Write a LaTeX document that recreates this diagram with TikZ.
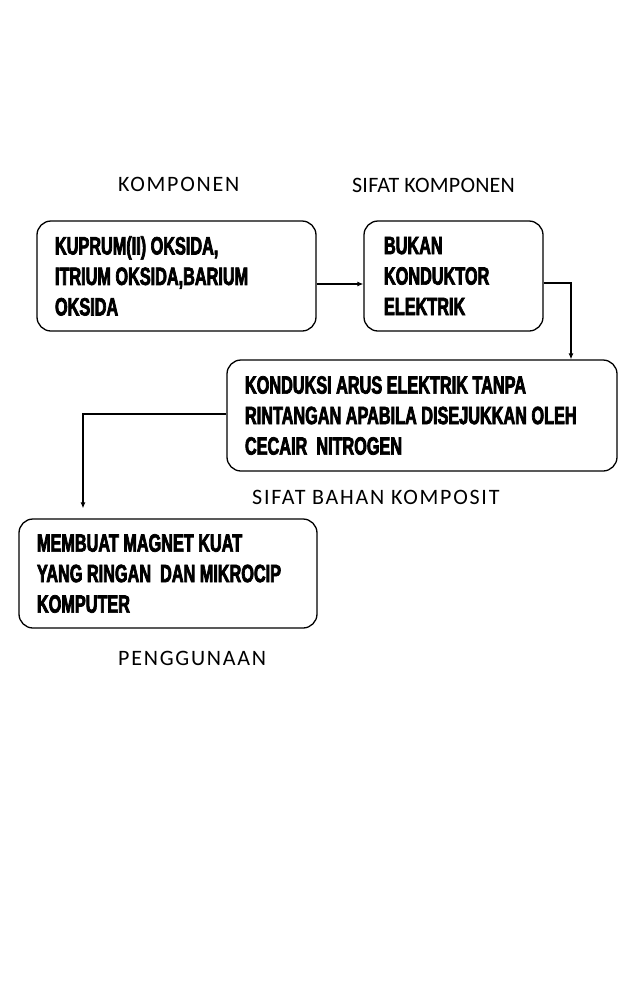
\documentclass[tikz,border=0pt]{standalone}
\usepackage{fontspec}
\setmainfont{Carlito}
\newfontfamily\boxfont{Liberation Sans Bold}[FakeStretch=0.65,FakeBold=2.8]
\newfontfamily\labfont{Carlito}[LetterSpace=8]
\newfontfamily\labfonttight{Carlito}[LetterSpace=1]
\usetikzlibrary{arrows.meta}
\begin{document}
\begin{tikzpicture}[x=1pt,y=-1pt,
  box/.style={draw, line width=1.3pt, rounded corners=14pt, inner xsep=18pt, inner ysep=0pt, align=flush left,
    font=\boxfont\fontsize{25}{30.5}\selectfont},
  lab/.style={anchor=base west, inner sep=0pt, font=\labfont\fontsize{22}{26}\selectfont},
  labt/.style={anchor=base west, inner sep=0pt, font=\labfonttight\fontsize{22}{26}\selectfont},
  conn/.style={line width=1.1pt, -{Latex[length=6pt,width=5pt]}}]
\useasboundingbox (0,0) rectangle (638,986);
\node[lab]  (l1) at (118,191) {KOMPONEN};
\node[labt] (l2) at (352,192) {SIFAT KOMPONEN};
\node[box, minimum width=279pt, minimum height=110pt, text width=243pt] (b1) at (176.5,276)
  {KUPRUM(II) OKSIDA,\\ITRIUM OKSIDA,BARIUM\\OKSIDA};
\node[box, inner xsep=20pt, minimum width=179pt, minimum height=110pt, text width=139pt] (b2) at (453.5,276)
  {BUKAN\\KONDUKTOR\\ELEKTRIK};
\node[box, minimum width=390pt, minimum height=111pt, text width=354pt] (b3) at (422,415.5)
  {KONDUKSI ARUS ELEKTRIK TANPA\\RINTANGAN APABILA DISEJUKKAN OLEH\\CECAIR\ \ NITROGEN};
\node[lab] (l3) at (252,504) {SIFAT BAHAN KOMPOSIT};
\node[box, minimum width=298pt, minimum height=109pt, text width=262pt] (b4) at (168,573.5)
  {MEMBUAT MAGNET KUAT\\YANG RINGAN\ \ DAN MIKROCIP\\KOMPUTER};
\node[lab] (l4) at (118,665) {PENGGUNAAN};
\draw[conn] ([yshift=-8pt]b1.east) -- ([yshift=-8pt]b2.west);
\draw[conn] ([yshift=-7pt]b2.east) -| ([xshift=149pt]b3.north);
\draw[conn, shorten >=10pt] ([yshift=1.5pt]b3.west) -| ([xshift=-85pt]b4.north);
\end{tikzpicture}
\end{document}
